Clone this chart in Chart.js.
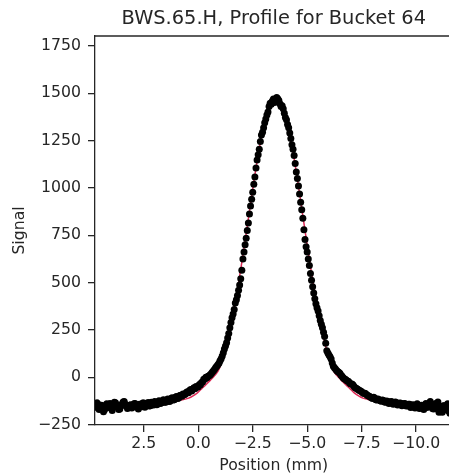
<!DOCTYPE html>
<html>
<head>
<meta charset="utf-8">
<script src="https://cdn.jsdelivr.net/npm/chart.js@4.4.1/dist/chart.umd.min.js"></script>
<style>
  html, body { margin: 0; padding: 0; background: #fff; overflow: hidden; }
  #wrap { width: 456px; height: 476px; position: relative; }
</style>
</head>
<body>
<div id="wrap"><canvas id="profile"></canvas></div>
<script>
const positions = [
  4.70, 4.65, 4.60, 4.55, 4.50, 4.45, 4.40, 4.35, 4.30, 4.25,
  4.20, 4.15, 4.10, 4.05, 4.00, 3.95, 3.90, 3.85, 3.80, 3.75,
  3.70, 3.65, 3.60, 3.55, 3.50, 3.45, 3.40, 3.35, 3.30, 3.25,
  3.20, 3.15, 3.10, 3.05, 3.00, 2.95, 2.90, 2.85, 2.80, 2.75,
  2.70, 2.65, 2.60, 2.55, 2.50, 2.45, 2.40, 2.35, 2.30, 2.25,
  2.20, 2.15, 2.10, 2.05, 2.00, 1.95, 1.90, 1.85, 1.80, 1.75,
  1.70, 1.65, 1.60, 1.55, 1.50, 1.45, 1.40, 1.35, 1.30, 1.25,
  1.20, 1.15, 1.10, 1.05, 1.00, 0.95, 0.90, 0.85, 0.80, 0.75,
  0.70, 0.65, 0.60, 0.55, 0.50, 0.45, 0.40, 0.35, 0.30, 0.25,
  0.20, 0.15, 0.10, 0.05, 0.00, -0.05, -0.10, -0.15, -0.20, -0.25,
  -0.30, -0.35, -0.40, -0.45, -0.50, -0.55, -0.60, -0.65, -0.70, -0.75,
  -0.80, -0.85, -0.90, -0.95, -1.00, -1.05, -1.10, -1.15, -1.20, -1.25,
  -1.30, -1.35, -1.40, -1.45, -1.50, -1.55, -1.60, -1.65, -1.70, -1.75,
  -1.80, -1.85, -1.90, -1.95, -2.00, -2.05, -2.10, -2.15, -2.20, -2.25,
  -2.30, -2.35, -2.40, -2.45, -2.50, -2.55, -2.60, -2.65, -2.70, -2.75,
  -2.80, -2.85, -2.90, -2.95, -3.00, -3.05, -3.10, -3.15, -3.20, -3.25,
  -3.30, -3.35, -3.40, -3.45, -3.50, -3.55, -3.60, -3.65, -3.70, -3.75,
  -3.80, -3.85, -3.90, -3.95, -4.00, -4.05, -4.10, -4.15, -4.20, -4.25,
  -4.30, -4.35, -4.40, -4.45, -4.50, -4.55, -4.60, -4.65, -4.70, -4.75,
  -4.80, -4.85, -4.90, -4.95, -5.00, -5.05, -5.10, -5.15, -5.20, -5.25,
  -5.30, -5.35, -5.40, -5.45, -5.50, -5.55, -5.60, -5.65, -5.70, -5.75,
  -5.80, -5.85, -5.90, -5.95, -6.00, -6.05, -6.10, -6.15, -6.20, -6.25,
  -6.30, -6.35, -6.40, -6.45, -6.50, -6.55, -6.60, -6.65, -6.70, -6.75,
  -6.80, -6.85, -6.90, -6.95, -7.00, -7.05, -7.10, -7.15, -7.20, -7.25,
  -7.30, -7.35, -7.40, -7.45, -7.50, -7.55, -7.60, -7.65, -7.70, -7.75,
  -7.80, -7.85, -7.90, -7.95, -8.00, -8.05, -8.10, -8.15, -8.20, -8.25,
  -8.30, -8.35, -8.40, -8.45, -8.50, -8.55, -8.60, -8.65, -8.70, -8.75,
  -8.80, -8.85, -8.90, -8.95, -9.00, -9.05, -9.10, -9.15, -9.20, -9.25,
  -9.30, -9.35, -9.40, -9.45, -9.50, -9.55, -9.60, -9.65, -9.70, -9.75,
  -9.80, -9.85, -9.90, -9.95, -10.00, -10.05, -10.10, -10.15, -10.20, -10.25,
  -10.30, -10.35, -10.40, -10.45, -10.50, -10.55, -10.60, -10.65, -10.70, -10.75,
  -10.80, -10.85, -10.90, -10.95, -11.00, -11.05, -11.10, -11.15, -11.20, -11.25,
  -11.30, -11.35, -11.40, -11.45, -11.50, -11.55, -11.60
];
const signal = [
  -158, -135, -142, -170, -165, -148, -150, -182, -172, -155,
  -140, -160, -155, -138, -163, -175, -146, -132, -135, -150,
  -158, -170, -168, -145, -149, -130, -128, -142, -152, -165,
  -160, -148, -145, -162, -157, -140, -138, -155, -150, -168,
  -142, -150, -155, -136, -136, -158, -147, -140, -133, -152,
  -150, -132, -139, -146, -128, -140, -145, -130, -124, -138,
  -136, -125, -118, -132, -132, -120, -115, -128, -126, -112,
  -108, -120, -118, -106, -102, -112, -110, -96, -95, -100,
  -88, -92, -90, -80, -76, -82, -70, -64, -72, -62,
  -55, -60, -48, -52, -50, -38, -40, -28, -25, -10,
  -10, 0, -2, 5, 8, 14, 20, 28, 35, 42,
  52, 58, 66, 74, 88, 98, 112, 130, 150, 165,
  182, 208, 232, 262, 290, 315, 335, 358, 392, 410,
  432, 460, 488, 520, 565, 625, 662, 700, 735, 775,
  815, 862, 905, 940, 978, 1020, 1058, 1105, 1148, 1175,
  1205, 1245, 1280, 1295, 1318, 1345, 1365, 1385, 1402, 1430,
  1448, 1442, 1460, 1470, 1452, 1465, 1478, 1472, 1462, 1445,
  1430, 1435, 1418, 1395, 1372, 1360, 1335, 1318, 1290, 1262,
  1228, 1205, 1172, 1130, 1085, 1050, 1010, 968, 925, 885,
  840, 780, 728, 690, 662, 625, 590, 548, 512, 478,
  445, 415, 388, 368, 350, 325, 300, 280, 262, 238,
  215, 180, 140, 128, 118, 108, 96, 75, 58, 50,
  44, 36, 30, 26, 22, 12, 5, -2, -8, -10,
  -15, -20, -22, -30, -35, -36, -40, -48, -55, -58,
  -62, -66, -70, -72, -76, -82, -85, -84, -88, -95,
  -98, -100, -104, -108, -112, -106, -110, -118, -120, -114,
  -118, -124, -126, -120, -122, -130, -132, -125, -128, -138,
  -136, -128, -131, -142, -138, -130, -134, -146, -142, -136,
  -137, -150, -145, -138, -140, -152, -150, -142, -143, -160,
  -155, -145, -148, -162, -158, -140, -150, -165, -162, -148,
  -153, -170, -146, -138, -160, -150, -140, -128, -152, -165,
  -168, -150, -138, -155, -130, -185, -175, -160, -185, -150,
  -150, -172, -162, -140, -178, -190, -155
];

// fitted profile curve
const fitPositions = [
  4.7, 2.44, 1.44, 0.84, 0.44, 0.24, 0.04, -0.16, -0.36, -0.56,
  -0.76, -0.96, -1.16, -1.36, -1.56, -1.76, -1.96, -2.16, -2.36, -2.56,
  -2.76, -2.96, -3.16, -3.36, -3.56, -3.76, -3.96, -4.16, -4.36, -4.56,
  -4.76, -4.96, -5.16, -5.36, -5.56, -5.76, -5.96, -6.16, -6.36, -6.56,
  -6.76, -6.96, -7.16, -7.36, -7.56, -7.96, -8.56, -9.56, -11.84
];
const fitSignal = [
  -150, -146, -138, -122, -110, -98, -82, -60, -38, -15,
  10, 44, 116, 205, 312, 437, 578, 729, 885, 1040,
  1182, 1306, 1400, 1460, 1480, 1460, 1400, 1306, 1182, 1040,
  885, 729, 578, 437, 312, 205, 116, 44, 10, -15,
  -38, -60, -82, -98, -110, -122, -138, -146, -150
];

const xTicks = [2.5, 0.0, -2.5, -5.0, -7.5, -10.0];
const yTicks = [-250, 0, 250, 500, 750, 1000, 1250, 1500, 1750];

const axisColor = '#262626';
const tickFont = { family: 'DejaVu Sans', size: 15.7 };

function minusSign(txt) {
  return txt.replace('-', '\u2212');
}

// matplotlib style top spine (left and bottom come from the scales)
const spines = {
  id: 'spines',
  afterDraw: function(chart) {
    var a = chart.chartArea;
    var c = chart.ctx;
    c.save();
    c.strokeStyle = axisColor;
    c.lineWidth = 1.3;
    c.beginPath();
    c.moveTo(a.left, a.top);
    c.lineTo(a.right, a.top);
    c.stroke();
    c.restore();
  }
};

const ctx = document.getElementById('profile');

new Chart(ctx, {
  type: 'scatter',
  data: {
    datasets: [{
      label: 'data',
      data: positions.map(function(p, i) { return { x: p, y: signal[i] }; }),
      backgroundColor: '#000',
      borderWidth: 0,
      pointRadius: 3.5,
      pointHoverRadius: 3.5
    }, {
      label: 'fit',
      data: fitPositions.map(function(p, i) { return { x: p, y: fitSignal[i] }; }),
      showLine: true,
      borderColor: '#dc2a55',
      borderWidth: 1.5,
      pointRadius: 0,
      cubicInterpolationMode: 'monotone'
    }]
  },
  options: {
    responsive: true,
    maintainAspectRatio: false,
    animation: false,
    layout: { padding: { left: 0, right: 2, top: 0, bottom: 0 } },
    plugins: {
      legend: { display: false },
      tooltip: { enabled: false },
      title: {
        display: true,
        fullSize: false,
        text: 'BWS.65.H, Profile for Bucket 64',
        color: axisColor,
        font: { family: 'DejaVu Sans', size: 19.4, weight: 'normal' },
        padding: { top: 7.6, bottom: 5.1 }
      }
    },
    scales: {
      x: {
        type: 'linear',
        reverse: true,
        min: -11.67,
        max: 4.74,
        afterBuildTicks: function(scale) {
          scale.ticks = xTicks.map(function(v) { return { value: v }; });
        },
        afterFit: function(scale) { scale.height = 51; },
        border: { display: true, color: axisColor, width: 1.3 },
        grid: { drawOnChartArea: false, drawTicks: true, tickLength: 7, color: axisColor, lineWidth: 1.3 },
        ticks: {
          color: axisColor,
          font: tickFont,
          padding: 3,
          maxRotation: 0,
          autoSkip: false,
          callback: function(v) { return minusSign(v.toFixed(1)); }
        },
        title: {
          display: true,
          text: 'Position (mm)',
          color: axisColor,
          font: tickFont,
          padding: { top: 0, bottom: 1 }
        }
      },
      y: {
        type: 'linear',
        min: -252,
        max: 1803,
        afterBuildTicks: function(scale) {
          scale.ticks = yTicks.map(function(v) { return { value: v }; });
        },
        afterFit: function(scale) { scale.width = 95; },
        border: { display: true, color: axisColor, width: 1.3 },
        grid: { drawOnChartArea: false, drawTicks: true, tickLength: 7, color: axisColor, lineWidth: 1.3 },
        ticks: {
          color: axisColor,
          font: tickFont,
          padding: 7,
          autoSkip: false,
          callback: function(v) { return minusSign(String(v)); }
        },
        title: {
          display: true,
          text: 'Signal',
          color: axisColor,
          font: tickFont,
          padding: { top: 11, bottom: 0 }
        }
      }
    }
  },
  plugins: [spines]
});
</script>
</body>
</html>
